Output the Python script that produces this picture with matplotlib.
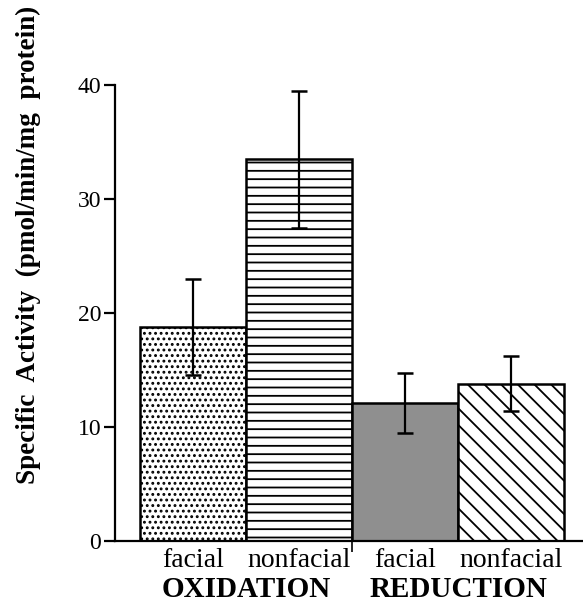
import matplotlib
matplotlib.use('Agg')
import matplotlib.pyplot as plt

plt.rcParams['font.family'] = 'Liberation Serif'
plt.rcParams['hatch.linewidth'] = 1.3

# data
categories = ['facial', 'nonfacial', 'facial', 'nonfacial']
groups = ['OXIDATION', 'REDUCTION']
values = [18.8, 33.5, 12.1, 13.8]
errors = [4.2, 6.0, 2.6, 2.4]
yticks = [0, 10, 20, 30, 40]

hatches = ['...', '--', '', '\\\\']
faces = ['white', 'white', '#8f8f8f', 'white']

fig = plt.figure(figsize=(5.83, 6.04), dpi=100)
ax = fig.add_axes([115 / 583, 63 / 604, 468 / 583, 456 / 604])

x = list(range(len(values)))
for i in x:
    ax.bar(i, values[i], width=1.0, color=faces[i], edgecolor='black',
           linewidth=1.8, hatch=hatches[i], zorder=2)
ax.errorbar(x, values, yerr=errors, fmt='none', ecolor='black',
            elinewidth=1.6, capsize=6, capthick=1.8, zorder=3)

ax.set_xlim(-0.74, 3.675)
ax.set_ylim(0, 40)
ax.spines['top'].set_visible(False)
ax.spines['right'].set_visible(False)
ax.spines['left'].set_linewidth(1.6)
ax.spines['bottom'].set_linewidth(1.6)
ax.set_yticks(yticks)
ax.tick_params(axis='y', length=8, width=1.6, labelsize=17, pad=2)
ax.set_xticks([1.5])
ax.set_xticklabels([''])
ax.tick_params(axis='x', length=8, width=1.2)

for i, c in enumerate(categories):
    ax.text(i, -2.3, c, ha='center', va='baseline', fontsize=20)
for j, g in enumerate(groups):
    ax.text(2 * j + 0.5, -4.95, g, ha='center', va='baseline', fontsize=21,
            fontweight='bold')

fig.text(28 / 583, 1 - 245 / 604, 'Specific  Activity  (pmol/min/mg  protein)',
         rotation=90, ha='center', va='center', fontsize=19.5, fontweight='bold')

fig.savefig('out.png', dpi=100)
